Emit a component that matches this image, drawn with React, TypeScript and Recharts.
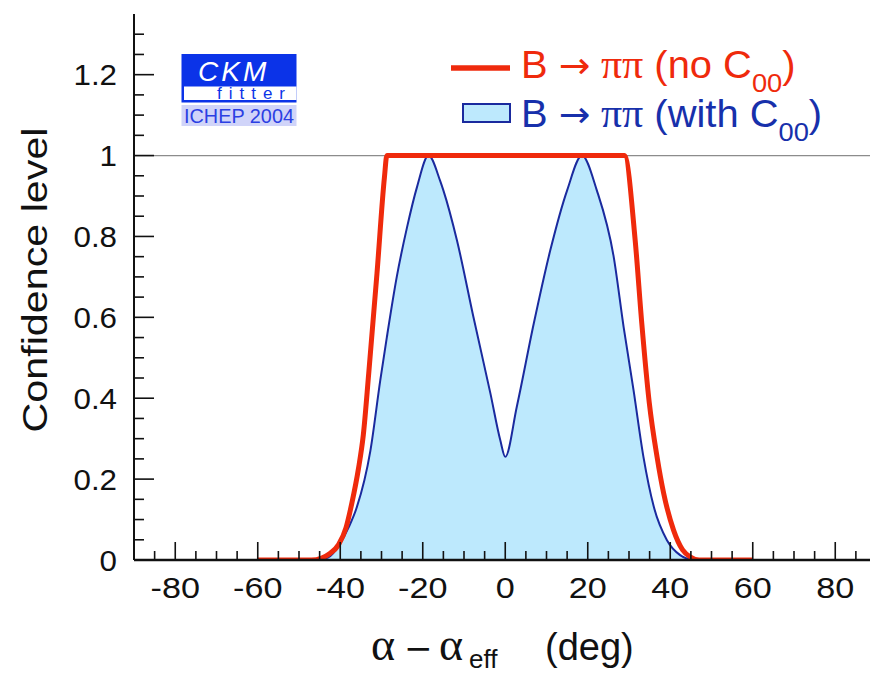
import React from 'react';
import { ComposedChart, Line, Area, XAxis, YAxis } from 'recharts';

// Confidence level vs alpha - alpha_eff (deg), B -> pi pi isospin analysis
const noC00Alpha = [-60, -47, -44.5, -42.5, -40.4, -38.6, -37.2, -35.6, -34.4, -33.1, -31.1, -29.3, -28.7, 28.9, 31.5, 33.1, 34.9, 36.8, 38.4, 40.8, 43, 44.8, 47, 60];
const noC00CL = [0, 0, 0.005, 0.016, 0.038, 0.08, 0.14, 0.225, 0.31, 0.461, 0.708, 0.945, 1, 1, 0.79, 0.585, 0.39, 0.255, 0.165, 0.074, 0.025, 0.008, 0, 0];

const withC00Alpha = [-45.5, -43, -40, -38, -36, -32.7, -30.3, -28.7, -26.3, -23.8, -21.4, -18.6, -15.8, -15, -11.7, -7.7, -3.6, -1.2, 0, 2.8, 6.9, 10.9, 15, 18.6, 22.2, 26.3, 28.7, 31.1, 33.5, 36, 39.2, 42.4, 45];
const withC00CL = [0, 0.006, 0.041, 0.08, 0.13, 0.27, 0.444, 0.551, 0.7, 0.823, 0.922, 1, 0.938, 0.914, 0.79, 0.6, 0.412, 0.296, 0.255, 0.379, 0.584, 0.765, 0.914, 1, 0.914, 0.749, 0.576, 0.42, 0.255, 0.132, 0.049, 0.012, 0];

const unityAlpha = [-90, 90];
const unityCL = [1, 1];

const xMajorTicks = [-80, -60, -40, -20, 0, 20, 40, 60, 80];
const xMinorTicks = [-85, -75, -70, -65, -55, -50, -45, -35, -30, -25, -15, -10, -5, 5, 10, 15, 25, 30, 35, 45, 50, 55, 65, 70, 75, 85];
const yMajorTicks = [0, 0.2, 0.4, 0.6, 0.8, 1, 1.2];
const yMinorTicks = [0.05, 0.1, 0.15, 0.25, 0.3, 0.35, 0.45, 0.5, 0.55, 0.65, 0.7, 0.75, 0.85, 0.9, 0.95, 1.05, 1.1, 1.15, 1.25, 1.3];

const noC00 = noC00Alpha.map((x, i) => ({ x, cl: noC00CL[i] }));
const withC00 = withC00Alpha.map((x, i) => ({ x, cl: withC00CL[i] }));
const unity = unityAlpha.map((x, i) => ({ x, cl: unityCL[i] }));

const RED = '#ef2a0c';
const NAVY = '#1a2a9e';
const NAVY_TEXT = '#1730ab';
const FILL = '#bde9fd';
const INK = '#111';
const SANS = '"Liberation Sans", Arial, Helvetica, sans-serif';
const SERIF = '"Liberation Serif", "Times New Roman", serif';
const SYMBOL = '"DejaVu Sans", sans-serif';

const xTicks = [...xMajorTicks, ...xMinorTicks].sort((a, b) => a - b);
const yTicks = [...yMajorTicks, ...yMinorTicks].sort((a, b) => a - b);

const BottomTick = (p: any) => {
  const { x, y, payload } = p;
  const major = xMajorTicks.includes(payload.value);
  return (
    <g>
      <line x1={x} x2={x} y1={y} y2={y - (major ? 18 : 9)} stroke={INK} strokeWidth={1.6} />
      {major && (
        <text transform={`translate(${x},${y + 38}) scale(1.14,1)`} textAnchor="middle" fontSize={30} fontFamily={SANS} fill={INK}>
          {String(payload.value)}
        </text>
      )}
    </g>
  );
};

const TopTick = (p: any) => {
  const { x, y, payload } = p;
  const major = xMajorTicks.includes(payload.value);
  return <line x1={x} x2={x} y1={y} y2={y + (major ? 18 : 9)} stroke={INK} strokeWidth={1.6} />;
};

const LeftTick = (p: any) => {
  const { x, y, payload } = p;
  const major = yMajorTicks.includes(payload.value);
  return (
    <g>
      {payload.value !== 0 && (
        <line x1={x} x2={x + (major ? 20 : 10)} y1={y} y2={y} stroke={INK} strokeWidth={1.6} />
      )}
      {major && (
        <text transform={`translate(${x - 17},${y + 10.5}) scale(1.08,1)`} textAnchor="end" fontSize={29} fontFamily={SANS} fill={INK}>
          {String(payload.value)}
        </text>
      )}
    </g>
  );
};

const RightTick = (p: any) => {
  const { x, y, payload } = p;
  const major = yMajorTicks.includes(payload.value);
  if (payload.value === 0) return <g />;
  return <line x1={x} x2={x - (major ? 20 : 10)} y1={y} y2={y} stroke={INK} strokeWidth={1.6} />;
};

const LegendLabel = ({ y, fill, note }: { y: number; fill: string; note: string }) => (
  <text transform={`translate(521,${y}) scale(1.05,1)`} x={0} y={0} fontSize={38} fontFamily={SANS} fill={fill}>
    <tspan>B </tspan>
    <tspan fontFamily={SYMBOL} fontSize={36}>→</tspan>
    <tspan fontFamily={SERIF} fontSize={40}> ππ</tspan>
    <tspan>{` (${note} C`}</tspan>
    <tspan fontSize={26} dy={14}>00</tspan>
    <tspan dy={-14}>)</tspan>
  </text>
);

const Decorations = () => (
  <svg width={870} height={673} style={{ position: 'absolute', left: 0, top: 0, pointerEvents: 'none' }}>
    {/* CKMfitter badge */}
    <rect x={181.5} y={54} width={115} height={48.5} fill="#0b33e8" />
    <rect x={184} y={86.5} width={112.5} height={13.5} fill="#fff" />
    <text x={198} y={81} fontSize={28} fontStyle="italic" fontFamily={SANS} fill="#fff" letterSpacing={3}>CKM</text>
    <text x={217} y={99} fontSize={17} fontFamily={SANS} fill="#0b33e8" textLength={68} lengthAdjust="spacing">fitter</text>
    <rect x={181.5} y={105} width={115} height={21} fill="#d0d4f9" />
    <text x={184} y={123} fontSize={20} fontFamily={SANS} fill="#2b3fe3" textLength={110} lengthAdjust="spacingAndGlyphs">ICHEP 2004</text>

    {/* legend */}
    <line x1={451} x2={510} y1={68} y2={68} stroke={RED} strokeWidth={5.5} />
    <LegendLabel y={78} fill={RED} note="no" />
    <rect x={463} y={104} width={47} height={18} fill={FILL} stroke={NAVY} strokeWidth={2} />
    <LegendLabel y={127} fill={NAVY_TEXT} note="with" />

    {/* axis titles */}
    <text transform="translate(47,280) rotate(-90)" textAnchor="middle" fontSize={35} fontFamily={SANS} fill={INK} textLength={305} lengthAdjust="spacingAndGlyphs">
      Confidence level
    </text>
    <text y={660} fontSize={38} fontFamily={SANS} fill={INK}>
      <tspan x={371} fontFamily={SERIF} fontSize={46}>α</tspan>
      <tspan x={404} fontFamily={SYMBOL} fontSize={34}>−</tspan>
      <tspan x={439} fontFamily={SERIF} fontSize={46}>α</tspan>
      <tspan x={469} dy={8} fontSize={26}>eff</tspan>
      <tspan x={545} dy={-8}>(deg)</tspan>
    </text>
  </svg>
);

export default function App() {
  return (
    <div style={{ position: 'fixed', left: 0, top: 0, width: 870, height: 673, overflow: 'hidden', background: '#fff' }}>
      <ComposedChart width={900} height={673} margin={{ top: 14, right: 23.5, bottom: 0, left: 0 }}>
        <XAxis xAxisId="b" type="number" dataKey="x" domain={[-90, 90]} allowDataOverflow ticks={xTicks} interval={0}
          tickSize={0} tickMargin={0} tickLine={false} tick={BottomTick} axisLine={{ stroke: INK, strokeWidth: 2.5 }} height={113} />
        <XAxis xAxisId="t" orientation="top" type="number" dataKey="x" domain={[-90, 90]} allowDataOverflow ticks={xTicks} interval={0}
          tickSize={0} tickMargin={0} tickLine={false} tick={TopTick} axisLine={{ stroke: INK, strokeWidth: 2 }} height={0} />
        <YAxis yAxisId="l" type="number" domain={[0, 1.35]} allowDataOverflow ticks={yTicks} interval={0}
          tickSize={0} tickMargin={0} tickLine={false} tick={LeftTick} axisLine={{ stroke: INK, strokeWidth: 2 }} width={134} />
        <YAxis yAxisId="r" orientation="right" type="number" domain={[0, 1.35]} allowDataOverflow ticks={yTicks} interval={0}
          tickSize={0} tickMargin={0} tickLine={false} tick={RightTick} axisLine={{ stroke: INK, strokeWidth: 2 }} width={0} />
        <Line xAxisId="b" yAxisId="l" data={unity} dataKey="cl" type="linear" stroke="#8c8c8c" strokeWidth={1.2} dot={false} isAnimationActive={false} />
        <Area xAxisId="b" yAxisId="l" data={withC00} dataKey="cl" type="monotone" stroke={NAVY} strokeWidth={2} fill={FILL} fillOpacity={1} dot={false} isAnimationActive={false} />
        <Line xAxisId="b" yAxisId="l" data={noC00} dataKey="cl" type="monotone" stroke={RED} strokeWidth={5} strokeLinejoin="round" dot={false} isAnimationActive={false} />
      </ComposedChart>
      <Decorations />
    </div>
  );
}
